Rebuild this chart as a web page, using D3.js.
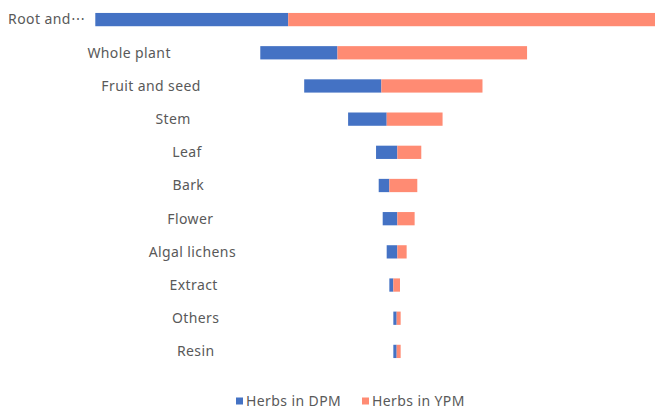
<!DOCTYPE html>
<html>
<head>
<meta charset="utf-8">
<script src="https://cdn.jsdelivr.net/npm/d3@7"></script>
<style>
  body { margin: 0; background: #fff; }
  text { font-family: "Noto Sans", sans-serif; fill: #595959; letter-spacing: 0.4px; }
</style>
</head>
<body>
<div id="chart"></div>
<script>
// categories, top to bottom
var categories = ["Root and\u22EF", "Whole plant", "Fruit and seed", "Stem", "Leaf", "Bark",
                  "Flower", "Algal lichens", "Extract", "Others", "Resin"];
// hidden spacer series (funnel built as a stacked bar), then the two real series
var spacer = [0, 124, 157, 190, 211, 213, 216, 219, 221, 224, 224];
var dpm = [145, 58, 58, 29, 16, 8, 11, 8, 3, 2.5, 2.5];
var ypm = [307, 142.5, 76, 42, 18, 21, 13, 7, 5, 3, 3];
var seriesNames = ["Herbs in DPM", "Herbs in YPM"];
var colors = ["#4472C4", "#FF8B73"];

var width = 655, height = 412;

var svg = d3.select("#chart").append("svg")
    .attr("width", width)
    .attr("height", height);

var data = categories.map(function(c, i) {
  return { name: c, pad: spacer[i], dpm: dpm[i], ypm: ypm[i] };
});

var maxTotal = d3.max(data, function(d) { return d.pad + d.dpm + d.ypm; });

var x = d3.scaleLinear()
    .domain([0, maxTotal])
    .range([95.3, 696.7]);

var y = d3.scaleBand()
    .domain(categories)
    .range([3, 368])
    .paddingInner(0.6)
    .paddingOuter(0.3);

var rows = svg.append("g").selectAll("g")
    .data(data)
  .enter().append("g");

rows.append("rect")
    .attr("x", function(d) { return x(d.pad); })
    .attr("y", function(d) { return y(d.name); })
    .attr("width", function(d) { return x(d.pad + d.dpm) - x(d.pad); })
    .attr("height", y.bandwidth())
    .attr("fill", colors[0]);

rows.append("rect")
    .attr("x", function(d) { return x(d.pad + d.dpm); })
    .attr("y", function(d) { return y(d.name); })
    .attr("width", function(d) { return x(d.pad + d.dpm + d.ypm) - x(d.pad + d.dpm); })
    .attr("height", y.bandwidth())
    .attr("fill", colors[1]);

// category labels sit midway between the left edge and the bar
rows.append("text")
    .attr("x", function(d) { return x(d.pad) / 2 - 1; })
    .attr("y", function(d) { return y(d.name) + y.bandwidth() / 2; })
    .attr("dy", "0.35em")
    .style("text-anchor", "middle")
    .style("font-size", "14px")
    .text(function(d) { return d.name; });

// legend
var legendX = [236, 362];
var legend = svg.append("g").selectAll("g")
    .data(seriesNames)
  .enter().append("g")
    .attr("transform", function(d, i) { return "translate(" + legendX[i] + ",401)"; });

legend.append("rect")
    .attr("x", 0)
    .attr("y", -3.5)
    .attr("width", 7)
    .attr("height", 7)
    .attr("fill", function(d, i) { return colors[i]; });

legend.append("text")
    .attr("x", 10)
    .attr("y", 0)
    .attr("dy", "0.35em")
    .style("font-size", "14px")
    .text(function(d) { return d; });
</script>
</body>
</html>
